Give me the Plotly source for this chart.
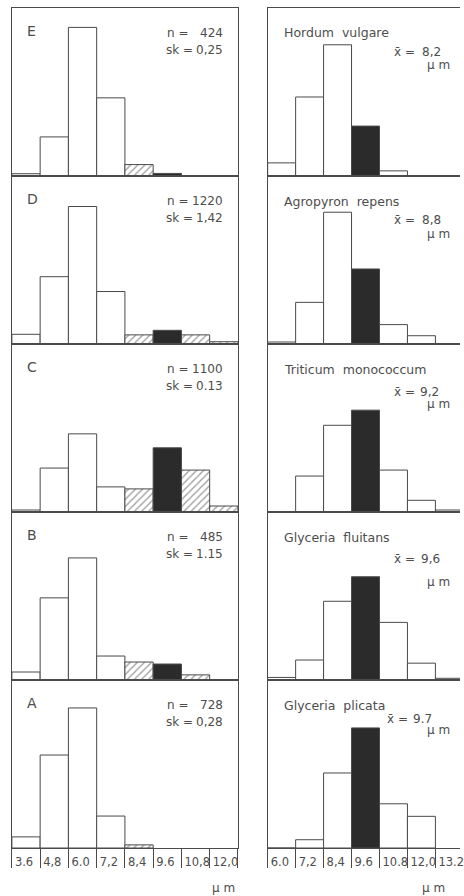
import plotly.graph_objects as go

# ---------------- data ----------------
left_edges = [3.6, 4.8, 6.0, 7.2, 8.4, 9.6, 10.8, 12.0]
left_tick_labels = ["3.6", "4,8", "6.0", "7,2", "8,4", "9.6", "10,8", "12,0"]
right_edges = [6.0, 7.2, 8.4, 9.6, 10.8, 12.0, 13.2]
right_tick_labels = ["6.0", "7,2", "8,4", "9.6", "10.8", "12,0", "13.2"]

sample_names = ["E", "D", "C", "B", "A"]
sample_n = ["424", "1220", "1100", "485", "728"]
sample_sk = ["0,25", "1,42", "0.13", "1.15", "0,28"]

freq_E = [0.8, 13.7, 52.1, 27.4, 4.0, 0.9]
freq_D = [3.4, 23.6, 48.2, 18.4, 3.2, 4.8, 3.2, 0.8]
freq_C = [0.7, 15.4, 27.4, 8.8, 8.1, 22.5, 14.7, 2.1]
freq_B = [2.8, 28.8, 42.8, 8.4, 6.3, 5.6, 1.8]
freq_A = [3.9, 32.6, 49.1, 11.2, 1.1]

species = ["Hordum  vulgare", "Agropyron  repens", "Triticum  monococcum",
           "Glyceria  fluitans", "Glyceria  plicata"]
species_mean = ["8,2", "8,8", "9,2", "9,6", "9.7"]

freq_hordeum = [4.6, 27.7, 46.0, 17.5, 1.8]
freq_agropyron = [0.7, 14.6, 46.2, 26.3, 6.8, 2.9]
freq_triticum = [0.0, 12.6, 30.4, 35.7, 14.7, 4.1, 0.7]
freq_fluitans = [0.9, 7.0, 27.6, 36.2, 20.2, 5.9, 0.6]
freq_plicata = [0.0, 2.9, 26.3, 42.1, 15.5, 11.1]

left_series = [freq_E, freq_D, freq_C, freq_B, freq_A]
right_series = [freq_hordeum, freq_agropyron, freq_triticum, freq_fluitans, freq_plicata]

# ---------------- layout geometry ----------------
W, H = 464, 896
PANEL_TOPS = [8, 176, 344, 512, 680]
PANEL_H = 168
LEFT_X0, LEFT_X1 = 12, 240
RIGHT_X0, RIGHT_X1 = 270, 464
BIN = 1.2
YMAX = 58.9
LINE = "#4a4a4a"
TXT = "#4d4d4d"
FONT = "DejaVu Sans"
BLACK = "#2b2b2b"


def fx(px):
    return px / W


def fy(py):
    return 1 - py / H


LEFT_BLACK = {5}
LEFT_HATCH = {4, 6, 7}
RIGHT_BLACK = {3}

fig = go.Figure()
annotations = []
axis_layout = {}

k = 0
for col in range(2):
    for row in range(5):
        k += 1
        xa = "x" if k == 1 else f"x{k}"
        ya = "y" if k == 1 else f"y{k}"
        xname = "xaxis" if k == 1 else f"xaxis{k}"
        yname = "yaxis" if k == 1 else f"yaxis{k}"
        top = PANEL_TOPS[row]
        bottom = top + PANEL_H
        is_bottom = row == 4
        if col == 0:
            edges, labels, vals = left_edges, left_tick_labels, left_series[row]
            colors = [BLACK if i in LEFT_BLACK else "white" for i in range(len(vals))]
            shapes = ["/" if i in LEFT_HATCH else "" for i in range(len(vals))]
            dom = [fx(LEFT_X0), fx(LEFT_X1)]
            rng = [3.6, 3.6 + 8 * BIN]
            tickvals = edges + [3.6 + 8 * BIN]
            ticktext = labels + [""]
            ymirror = True
        else:
            edges, labels, vals = right_edges, right_tick_labels, right_series[row]
            colors = [BLACK if i in RIGHT_BLACK else "white" for i in range(len(vals))]
            shapes = ["" for _ in vals]
            dom = [fx(RIGHT_X0), fx(RIGHT_X1)]
            rng = [6.0, 6.0 + (RIGHT_X1 - RIGHT_X0) / 28.2 * BIN]
            tickvals = edges
            ticktext = labels
            ymirror = False

        fig.add_trace(go.Bar(
            x=[edges[i] + BIN / 2 for i in range(len(vals))],
            y=vals,
            width=BIN,
            marker=dict(color=colors,
                        line=dict(color=LINE, width=1),
                        pattern=dict(shape=shapes, fgcolor="#444444", size=5,
                                     solidity=0.28)),
            xaxis=xa, yaxis=ya, showlegend=False, hoverinfo="skip",
        ))

        axis_layout[xname] = dict(
            domain=dom, range=rng, anchor=ya, showgrid=False, zeroline=False,
            showline=True, mirror=True, linecolor=LINE, linewidth=1,
            tickmode="array", tickvals=tickvals, ticktext=ticktext,
            ticks="outside" if is_bottom else "", ticklen=19, tickcolor=LINE,
            tickwidth=1, showticklabels=is_bottom, tickangle=0,
            ticklabelposition="outside right", ticklabelstandoff=3,
            ticklabelshift=2, ticklabeloverflow="allow",
            tickfont=dict(family=FONT, size=11.5, color=TXT), fixedrange=True,
        )
        axis_layout[yname] = dict(
            domain=[fy(bottom), fy(top)], range=[0, YMAX], anchor=xa,
            showgrid=False, zeroline=False, showline=True, mirror=ymirror,
            linecolor=LINE, linewidth=1, showticklabels=False, ticks="",
            fixedrange=True,
        )

# ---------------- text ----------------
def note(text, px, py, anchor="left", size=12):
    annotations.append(dict(
        text=text, x=fx(px), y=fy(py), xref="paper", yref="paper",
        xanchor=anchor, yanchor="middle", showarrow=False,
        font=dict(family=FONT, size=size, color=TXT)))


for row in range(5):
    top = PANEL_TOPS[row]
    note(sample_names[row], 25, top + 23, size=14)
    note("n =", 166, top + 25)
    note(sample_n[row], 227, top + 25, anchor="right")
    note("sk =", 165, top + 42)
    note(sample_sk[row], 227, top + 42, anchor="right")

mean_dy = [44, 44, 48, 47, 39]
unit_dy = [57, 58, 60, 70, 50]
mean_vx = [424, 424, 422, 423, 415]
for row in range(5):
    top = PANEL_TOPS[row]
    note(species[row], 284, top + 25, size=12.5)
    note("x\u0304 =", 395 if row < 4 else 388, top + mean_dy[row])
    note(species_mean[row], mean_vx[row], top + mean_dy[row])
    note("\u03bc m", 429, top + unit_dy[row])

note("\u03bc m", 212, 888)
note("\u03bc m", 424, 888)

fig.update_layout(
    width=W, height=H, margin=dict(l=0, r=0, t=0, b=0),
    paper_bgcolor="white", plot_bgcolor="white",
    bargap=0, showlegend=False, annotations=annotations,
    **axis_layout,
)

fig.write_html(
    "out.html",
    config={"displayModeBar": False, "staticPlot": True},
    post_script="document.body.style.margin='0';document.body.style.overflow='hidden';",
)
